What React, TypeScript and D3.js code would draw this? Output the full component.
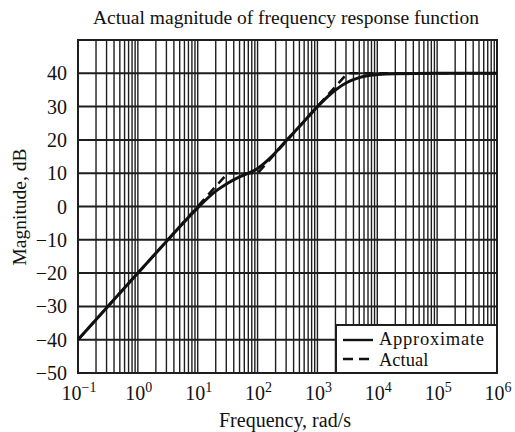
import React from "react";
import * as d3 from "d3";

const title = "Actual magnitude of frequency response function";
const xLabel = "Frequency, rad/s";
const yLabel = "Magnitude, dB";
const xTickExps = [-1, 0, 1, 2, 3, 4, 5, 6];
const yTicks = [40, 30, 20, 10, 0, -10, -20, -30, -40, -50];

// Smooth curve (legend: Approximate, solid)
const solidFreq = [0.1, 1, 3, 10, 20, 31.6, 50, 70, 100, 150, 200, 316, 500, 1000, 2000, 3162, 5000, 10000, 20000, 100000, 1000000];
const solidDb = [-40, -20, -10.5, -0.4, 4.6, 7, 8.9, 10, 11.4, 14, 16.2, 20.2, 24, 30, 35, 37.3, 38.7, 39.6, 39.9, 40, 40];
// Straight-line curve (legend: Actual, dashed)
const dashFreq = [0.1, 31.6, 100, 3162, 1000000];
const dashDb = [-40, 10, 10, 40, 40];

const W = 515, H = 432;
const L = 78, R = 497, T = 40, B = 373;

export default function App() {
  const x = d3.scaleLog().domain([0.1, 1e6]).range([L, R]);
  const y = d3.scaleLinear().domain([-50, 50]).range([B, T]);

  const minor: number[] = [];
  for (let e = -1; e < 6; e++) for (let k = 2; k <= 9; k++) minor.push(k * Math.pow(10, e));

  const line = d3.line<[number, number]>().x(d => x(d[0])).y(d => y(d[1])).curve(d3.curveMonotoneX);
  const solidPts = solidFreq.map((f, i) => [f, solidDb[i]] as [number, number]);
  const dashPts = dashFreq.map((f, i) => [f, dashDb[i]] as [number, number]);
  const lineLin = d3.line<[number, number]>().x(d => x(d[0])).y(d => y(d[1]));

  const font = "'Liberation Serif', 'Times New Roman', serif";
  const sup = ["\u22121", "0", "1", "2", "3", "4", "5", "6"];

  return (
    <svg width={W} height={H} style={{ position: "absolute", left: 0, top: 0, background: "#fff" }} fontFamily={font}>
      <rect x={0} y={0} width={W} height={H} fill="#fff" />
      <text x={286} y={24} textAnchor="middle" fontSize={19.5} fill="#111">{title}</text>
      {/* grid */}
      <g stroke="#1e1e1e" strokeWidth={1.4}>
        {minor.map((m, i) => (
          <line key={"m" + i} x1={x(m)} x2={x(m)} y1={T} y2={B} />
        ))}
        {xTickExps.map(e => (
          <line key={"d" + e} x1={x(Math.pow(10, e))} x2={x(Math.pow(10, e))} y1={T} y2={B} />
        ))}
        {yTicks.map(v => (
          <line key={"h" + v} x1={L} x2={R} y1={y(v)} y2={y(v)} strokeWidth={2} />
        ))}
      </g>
      <rect x={L} y={T} width={R - L} height={B - T} fill="none" stroke="#1e1e1e" strokeWidth={2} />
      {/* curves */}
      <path d={lineLin(dashPts) || ""} fill="none" stroke="#111" strokeWidth={2.6} strokeDasharray="9,6" />
      <path d={line(solidPts) || ""} fill="none" stroke="#111" strokeWidth={3} />
      {/* y ticks */}
      {yTicks.map(v => (
        <text key={"yt" + v} x={67} y={y(v) + 7} textAnchor="end" fontSize={20} fill="#111">
          {v < 0 ? "\u2212" + Math.abs(v) : String(v)}
        </text>
      ))}
      {/* x ticks */}
      {xTickExps.map((e, i) => (
        <text key={"xt" + e} x={x(Math.pow(10, e)) + 1} y={400} textAnchor="middle" fontSize={20} fill="#111">
          10<tspan dy={-8} fontSize={14}>{sup[i]}</tspan>
        </text>
      ))}
      <text x={285} y={427} textAnchor="middle" fontSize={20} fill="#111">{xLabel}</text>
      <text transform={`translate(26,207) rotate(-90)`} textAnchor="middle" fontSize={19.5} fill="#111">{yLabel}</text>
      {/* legend */}
      <g>
        <rect x={336} y={325} width={R - 336} height={B - 325} fill="#fff" stroke="#1e1e1e" strokeWidth={2} />
        <line x1={343} x2={373} y1={340} y2={340} stroke="#111" strokeWidth={2.4} />
        <line x1={343} x2={373} y1={359} y2={359} stroke="#111" strokeWidth={2.4} strokeDasharray="10,6" />
        <text x={379} y={345} fontSize={18.5} fill="#111" textLength={105} lengthAdjust="spacing">Approximate</text>
        <text x={379} y={366} fontSize={18.5} fill="#111">Actual</text>
      </g>
    </svg>
  );
}
